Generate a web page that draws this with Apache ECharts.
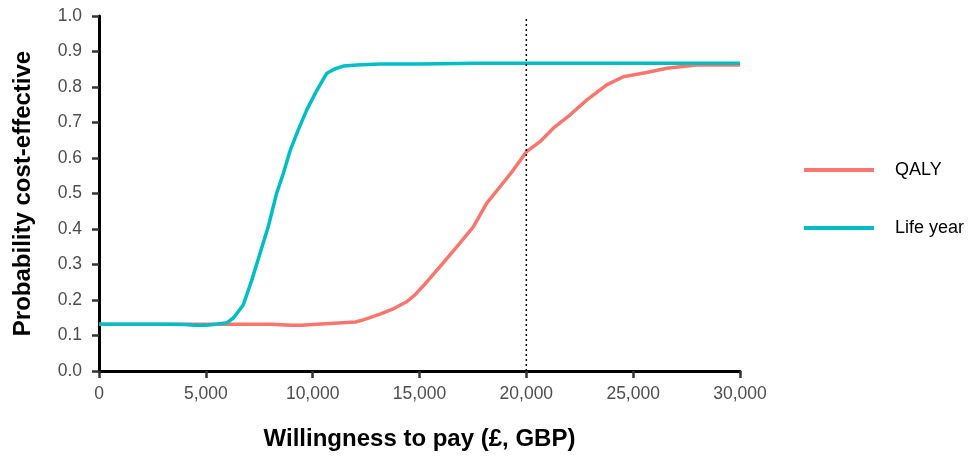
<!DOCTYPE html>
<html>
<head>
<meta charset="utf-8">
<script src="https://cdn.jsdelivr.net/npm/echarts@6/dist/echarts.min.js"></script>
<style>
  html, body { margin: 0; padding: 0; background: #fff; }
  #chart { width: 969px; height: 457px; }
</style>
</head>
<body>
<div id="chart"></div>
<script>
// Cost-effectiveness acceptability curves
const qalyWtp  = [0, 5000, 8000, 9000, 9500, 10000, 10810, 12000, 12370, 13150, 13800, 14400, 14800, 15180, 15960, 16890, 17520, 18140, 18770, 19390, 20010, 20640, 21260, 22040, 22820, 23760, 24540, 25630, 26570, 27970, 30000];
const qalyProb = [0.132, 0.132, 0.132, 0.129, 0.129, 0.131, 0.134, 0.138, 0.144, 0.16, 0.176, 0.195, 0.215, 0.24, 0.294, 0.36, 0.406, 0.472, 0.519, 0.566, 0.618, 0.646, 0.684, 0.721, 0.763, 0.806, 0.829, 0.841, 0.853, 0.862, 0.862];

const lyWtp  = [0, 1000, 2000, 3000, 4000, 4500, 5000, 5500, 6000, 6300, 6750, 7150, 7530, 7920, 8310, 8630, 8940, 9330, 9720, 10190, 10650, 11000, 11430, 12060, 13150, 15000, 17670, 20000, 25000, 30000];
const lyProb = [0.132, 0.132, 0.132, 0.132, 0.131, 0.129, 0.129, 0.132, 0.136, 0.15, 0.186, 0.256, 0.33, 0.406, 0.50, 0.557, 0.62, 0.68, 0.735, 0.79, 0.838, 0.85, 0.859, 0.862, 0.865, 0.865, 0.867, 0.867, 0.867, 0.867];

const seriesNames = ['QALY', 'Life year'];
const threshold = 20000;

const zip = (xs, ys) => xs.map((x, i) => [x, ys[i]]);
const fmt = v => v.toLocaleString('en-GB');

const chart = echarts.init(document.getElementById('chart'));
chart.setOption({
  animation: false,
  textStyle: { fontFamily: 'Liberation Sans, Arial, sans-serif' },
  grid: { left: 99, right: 229, top: 16, bottom: 86, containLabel: false },
  legend: {
    data: seriesNames,
    orient: 'vertical',
    left: 799,
    top: 156,
    icon: 'rect',
    itemWidth: 70,
    itemHeight: 4,
    itemGap: 40,
    textStyle: { fontSize: 18, color: '#000', padding: [0, 0, 0, 16] }
  },
  xAxis: {
    type: 'value',
    min: 0, max: 30000, interval: 5000,
    name: 'Willingness to pay (£, GBP)',
    nameLocation: 'middle',
    nameGap: 56,
    nameTextStyle: { fontSize: 24, fontWeight: 'bold', color: '#000' },
    axisLine: { lineStyle: { color: '#000', width: 3 } },
    axisTick: { show: true, length: 7, lineStyle: { color: '#333', width: 2.5 } },
    axisLabel: { fontSize: 17.5, color: '#4d4d4d', margin: 14, formatter: fmt },
    splitLine: { show: false }
  },
  yAxis: {
    type: 'value',
    min: 0, max: 1, interval: 0.1,
    name: 'Probability cost-effective',
    nameLocation: 'middle',
    nameGap: 64,
    nameTextStyle: { fontSize: 24, fontWeight: 'bold', color: '#000' },
    axisLine: { show: true, lineStyle: { color: '#000', width: 3 } },
    axisTick: { show: true, length: 7, lineStyle: { color: '#333', width: 2.5 } },
    axisLabel: { fontSize: 17.5, color: '#4d4d4d', margin: 17, formatter: v => v.toFixed(1) },
    splitLine: { show: false }
  },
  series: [
    {
      name: seriesNames[0],
      type: 'line',
      data: zip(qalyWtp, qalyProb),
      showSymbol: false,
      color: '#F8766D',
      lineStyle: { width: 3.5, color: '#F8766D' },
      z: 2
    },
    {
      name: seriesNames[1],
      type: 'line',
      data: zip(lyWtp, lyProb),
      showSymbol: false,
      color: '#00BFC4',
      lineStyle: { width: 3.5, color: '#00BFC4' },
      z: 3
    },
    {
      name: 'threshold',
      type: 'line',
      data: [[threshold, 0], [threshold, 1]],
      showSymbol: false,
      silent: true,
      lineStyle: { width: 1.5, color: '#000', type: [2, 3] },
      z: 4
    }
  ]
});
</script>
</body>
</html>
